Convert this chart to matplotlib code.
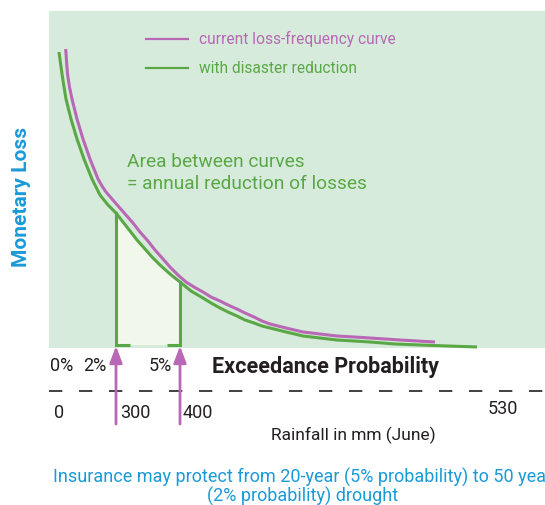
import matplotlib
matplotlib.use("Agg")
import matplotlib.pyplot as plt
from matplotlib.patches import Rectangle
import numpy as np

# ---- data (in figure pixel units) ----
current_x = [65.7, 66.5, 67.5, 69.5, 72, 74.5, 77, 80, 83, 86.5, 90, 94, 98, 102, 106, 112, 119, 126, 133, 140,
             148, 155, 163, 170, 178, 186, 194, 203, 211, 220, 228, 237, 245, 254, 262, 270, 286, 303, 320, 337,
             354, 370, 400, 435]
current_y = [50, 62, 75, 88, 100, 110, 120, 130, 140, 150, 160, 170, 180, 187, 193, 200, 208, 216, 224, 233,
             242, 251, 260, 268, 276, 283, 288, 293, 298, 302, 306, 310, 314, 318, 322, 325, 329, 333, 335, 337,
             338, 339, 341, 343]
reduced_x = [59, 60.5, 62, 64, 66, 68.5, 71, 74, 77, 80.5, 84, 88, 92, 96, 100, 104, 108, 116, 123, 130,
             137, 145, 152, 160, 170, 180, 191, 203, 211, 220, 228, 237, 245, 254, 262, 270, 286, 303, 320, 337,
             354, 370, 395, 420, 448, 477]
reduced_y = [53, 64, 75, 88, 100, 110, 120, 130, 140, 150, 160, 170, 180, 188, 196, 201, 206, 214, 223, 232,
             241, 250, 258, 266, 275, 283, 292, 299, 304, 309, 313, 317, 321, 324, 327, 329, 333, 337, 339, 341,
             342, 343, 345, 346, 347, 348]
prob_labels = ["0%", "2%", "5%"]
prob_pos = [62, 95, 160]
rain_labels = ["0", "300", "400", "530"]
rain_pos = [54, 120, 183, 488]
band_x = [116, 180]  # 2% and 5% exceedance positions

PURPLE = "#b868b4"
GREEN = "#5aa845"
BLUE = "#1b9ad8"
PANEL = "#d7ebdd"
FILL = "#f1f7ea"
TXT = "#231f20"
W, H = 545, 506

fig = plt.figure(figsize=(W / 100, H / 100), dpi=100)
ax = fig.add_axes([0, 0, 1, 1])
ax.set_xlim(0, W)
ax.set_ylim(H, 0)
ax.axis("off")

FONT = ["Roboto", "DejaVu Sans"]

panel_bottom = 349
ax.add_patch(Rectangle((49, 12), W - 49, panel_bottom - 12, facecolor=PANEL, edgecolor="none", zorder=0))

# fill between the band
rx = np.array(reduced_x, float)
ry = np.array(reduced_y, float)
m = (rx >= band_x[0]) & (rx <= band_x[1])
ax.fill_between(rx[m], ry[m], 346, facecolor=FILL, edgecolor="none", zorder=1)
ax.plot([band_x[0], band_x[0]], [ry[m][0], 346], color=GREEN, lw=2.2, zorder=2)
ax.plot([band_x[1], band_x[1]], [ry[m][-1], 346], color=GREEN, lw=2.2, zorder=2)
ax.plot([band_x[0] - 1, band_x[0] + 14], [346, 346], color=GREEN, lw=2.2, zorder=2, solid_capstyle="butt")
ax.plot([band_x[1] - 13, band_x[1] + 1], [346, 346], color=GREEN, lw=2.2, zorder=2, solid_capstyle="butt")

ax.plot(current_x, current_y, color=PURPLE, lw=2.2, zorder=3, solid_capstyle="butt")
ax.plot(reduced_x, reduced_y, color=GREEN, lw=2.2, zorder=3, solid_capstyle="butt")

# legend
ax.plot([146, 188], [40, 40], color=PURPLE, lw=1.6)
ax.plot([146, 188], [69, 69], color=GREEN, lw=1.6)
ax.text(199, 39, "current loss-frequency curve", color=PURPLE, fontsize=11.2, family=FONT, va="center")
ax.text(199, 68, "with disaster reduction", color=GREEN, fontsize=11.2, family=FONT, va="center")

ax.text(127, 162, "Area between curves", color=GREEN, fontsize=13.8, family=FONT, va="center")
ax.text(127, 184, "= annual reduction of losses", color=GREEN, fontsize=13.8, family=FONT, va="center")

ax.text(22, 197, "Monetary Loss", color=BLUE, fontsize=15, fontweight="bold", family=FONT,
        rotation=90, ha="center", va="center")

# axis labels below
for lab, x in zip(prob_labels, prob_pos):
    ax.text(x, 366, lab, fontsize=13, family=FONT, ha="center", va="center", color=TXT)
ax.text(212, 367, "Exceedance Probability", fontsize=15.5, fontweight="bold", family=FONT, va="center", color=TXT)

ax.plot([49, W], [392, 392], color=TXT, lw=1.2, dashes=(8, 10))

for lab, x in zip(rain_labels, rain_pos):
    ax.text(x, 413 if lab != "530" else 409, lab, fontsize=13, family=FONT, ha="left", va="center", color=TXT)
ax.text(353, 435, "Rainfall in mm (June)", fontsize=12.5, family=FONT, ha="center", va="center", color=TXT)

# arrows
for x in band_x:
    ax.annotate("", xy=(x, 347), xytext=(x, 425),
                arrowprops=dict(arrowstyle="-|>,head_length=1.0,head_width=0.38", color=PURPLE, lw=2.0,
                                shrinkA=0, shrinkB=0))

ax.text(303, 477, "Insurance may protect from 20-year (5% probability) to 50 year",
        color=BLUE, fontsize=13, family=FONT, ha="center", va="center")
ax.text(303, 496, "(2% probability) drought",
        color=BLUE, fontsize=13, family=FONT, ha="center", va="center")

fig.savefig("out.png", dpi=100)
